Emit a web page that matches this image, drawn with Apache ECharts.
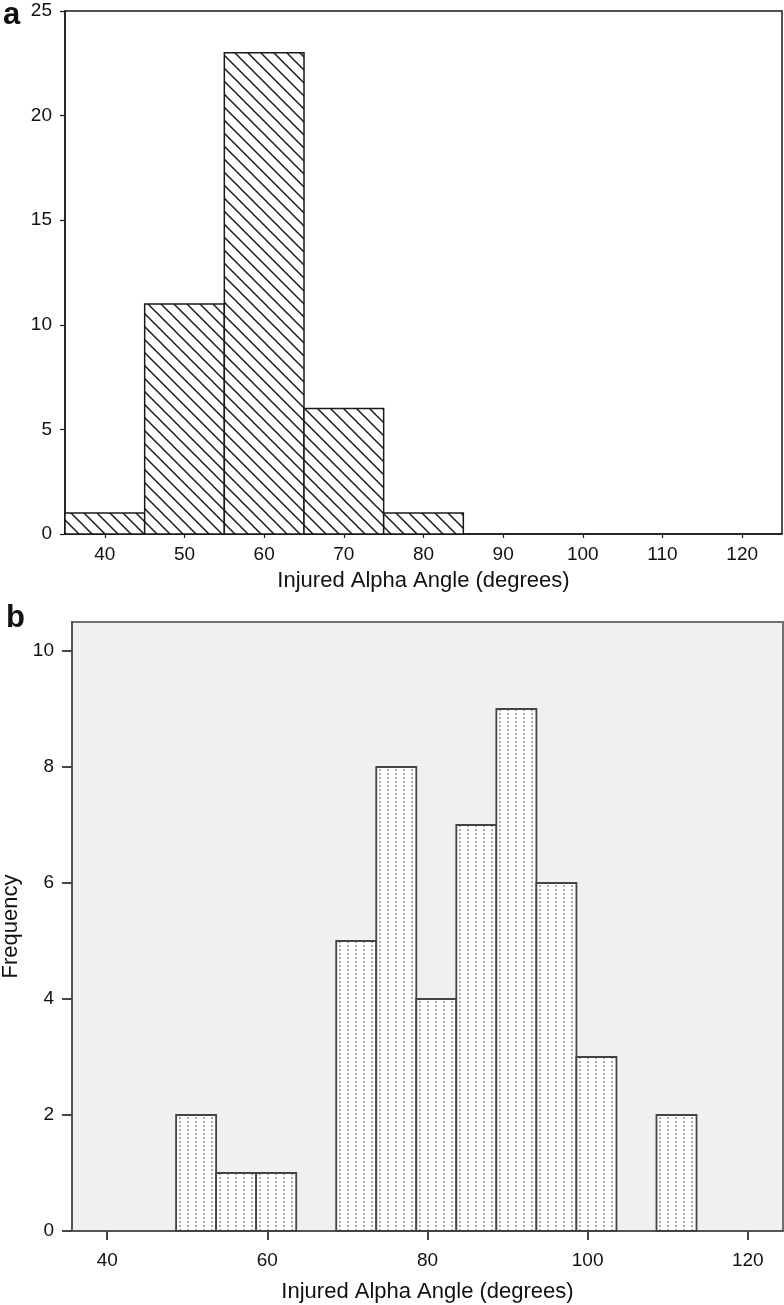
<!DOCTYPE html>
<html><head><meta charset="utf-8">
<script src="https://cdn.jsdelivr.net/npm/echarts@6/dist/echarts.min.js"></script>
<style>html,body{margin:0;padding:0;background:#fff}#c{width:784px;height:1305px}</style>
</head><body><div id="c"></div>
<script>
// ---- data ----
const edgesA = [35, 45, 55, 65, 75, 85];
const countsA = [1, 11, 23, 6, 1];
const edgesB = [48.6, 53.6, 58.6, 63.6, 68.6, 73.6, 78.6, 83.6, 88.6, 93.6, 98.6, 103.6, 108.6, 113.6];
const countsB = [2, 1, 1, 0, 5, 8, 4, 7, 9, 6, 3, 0, 2];
const xTicksA = [40, 50, 60, 70, 80, 90, 100, 110, 120];
const xTicksB = [40, 60, 80, 100, 120];
const xTitle = 'Injured Alpha Angle (degrees)';
const yTitle = 'Frequency';

function toBins(edges, counts) {
  return counts.map((c, i) => [edges[i], edges[i + 1], c]);
}

// ---- patterns ----
function hatchPattern() {
  const s = 13, cv = document.createElement('canvas');
  cv.width = s; cv.height = s;
  const g = cv.getContext('2d');
  g.fillStyle = '#fff'; g.fillRect(0, 0, s, s);
  g.strokeStyle = '#1a1a1a'; g.lineWidth = 1.5;
  for (let k = -1; k <= 1; k++) {
    g.beginPath(); g.moveTo(k * s - 2, -2); g.lineTo(k * s + s + 2, s + 2); g.stroke();
  }
  return { image: cv, repeat: 'repeat' };
}
function dotPattern() {
  const w = 8, h = 4, cv = document.createElement('canvas');
  cv.width = w; cv.height = h;
  const g = cv.getContext('2d');
  g.fillStyle = '#fff'; g.fillRect(0, 0, w, h);
  g.fillStyle = '#858585';
  g.beginPath(); g.arc(4, 2, 0.95, 0, Math.PI * 2); g.fill();
  return { image: cv, repeat: 'repeat' };
}
const hatch = hatchPattern();
const dots = dotPattern();

function makeRender(fill, stroke, lw) {
  return function (params, api) {
    const y = api.value(2);
    if (!y) return null;
    const p0 = api.coord([api.value(0), y]);
    const p1 = api.coord([api.value(1), 0]);
    return {
      type: 'rect',
      shape: { x: p0[0], y: p0[1], width: p1[0] - p0[0], height: p1[1] - p0[1] },
      style: { fill: fill, stroke: stroke, lineWidth: lw }
    };
  };
}

const FONT = 'Liberation Sans, Arial, sans-serif';
const chart = echarts.init(document.getElementById('c'), null, { renderer: 'canvas' });
chart.setOption({
  animation: false,
  backgroundColor: '#fff',
  textStyle: { fontFamily: FONT },
  graphic: [
    { type: 'text', left: 3, top: 0, style: { text: 'a', font: 'bold 31px ' + FONT, fill: '#111' } },
    { type: 'text', left: 6, top: 603, style: { text: 'b', font: 'bold 31px ' + FONT, fill: '#111' } }
  ],
  grid: [
    { left: 65, top: 11, width: 717, height: 523, show: true, borderColor: '#1a1a1a', borderWidth: 1.5, backgroundColor: 'transparent', containLabel: false, outerBoundsMode: 'none' },
    { left: 72, top: 622, width: 711, height: 609, show: true, borderColor: '#707070', borderWidth: 2, backgroundColor: '#f0f0f0', containLabel: false, outerBoundsMode: 'none' }
  ],
  xAxis: [
    {
      gridIndex: 0, type: 'value', min: 35, max: 125,
      name: xTitle, nameLocation: 'middle', nameGap: 36,
      nameTextStyle: { fontSize: 22, color: '#111', fontFamily: FONT },
      axisLine: { lineStyle: { color: '#1a1a1a', width: 1.5 } },
      axisTick: { show: true, length: 4, customValues: xTicksA, lineStyle: { color: '#1a1a1a', width: 1.2 } },
      axisLabel: { customValues: xTicksA, fontSize: 19, color: '#111', margin: 11, fontFamily: FONT },
      splitLine: { show: false }
    },
    {
      gridIndex: 1, type: 'value', min: 35.6, max: 124.4,
      name: xTitle, nameLocation: 'middle', nameGap: 50,
      nameTextStyle: { fontSize: 22, color: '#111', fontFamily: FONT },
      axisLine: { lineStyle: { color: '#555', width: 2 } },
      axisTick: { show: true, length: 9, customValues: xTicksB, lineStyle: { color: '#444', width: 2 } },
      axisLabel: { customValues: xTicksB, fontSize: 19, color: '#111', margin: 20, fontFamily: FONT },
      splitLine: { show: false }
    }
  ],
  yAxis: [
    {
      gridIndex: 0, type: 'value', min: 0, max: 25, interval: 5,
      axisLine: { show: true, lineStyle: { color: '#1a1a1a', width: 1.5 } },
      axisTick: { show: true, length: 5, lineStyle: { color: '#1a1a1a', width: 1.2 } },
      axisLabel: { fontSize: 19, color: '#111', margin: 13, fontFamily: FONT },
      splitLine: { show: false }
    },
    {
      gridIndex: 1, type: 'value', min: 0, max: 10.5, interval: 2,
      name: yTitle, nameLocation: 'middle', nameGap: 48,
      nameTextStyle: { fontSize: 22, color: '#111', fontFamily: FONT },
      axisLine: { show: true, lineStyle: { color: '#555', width: 2 } },
      axisTick: { show: true, length: 10, lineStyle: { color: '#444', width: 2 } },
      axisLabel: { fontSize: 19, color: '#111', margin: 18, fontFamily: FONT, showMaxLabel: false },
      splitLine: { show: false }
    }
  ],
  series: [
    {
      type: 'custom', xAxisIndex: 0, yAxisIndex: 0,
      renderItem: makeRender(hatch, '#1a1a1a', 1.5),
      encode: { x: [0, 1], y: 2 },
      data: toBins(edgesA, countsA)
    },
    {
      type: 'custom', xAxisIndex: 1, yAxisIndex: 1,
      renderItem: makeRender(dots, '#444', 1.8),
      encode: { x: [0, 1], y: 2 },
      data: toBins(edgesB, countsB)
    }
  ]
});
</script></body></html>
